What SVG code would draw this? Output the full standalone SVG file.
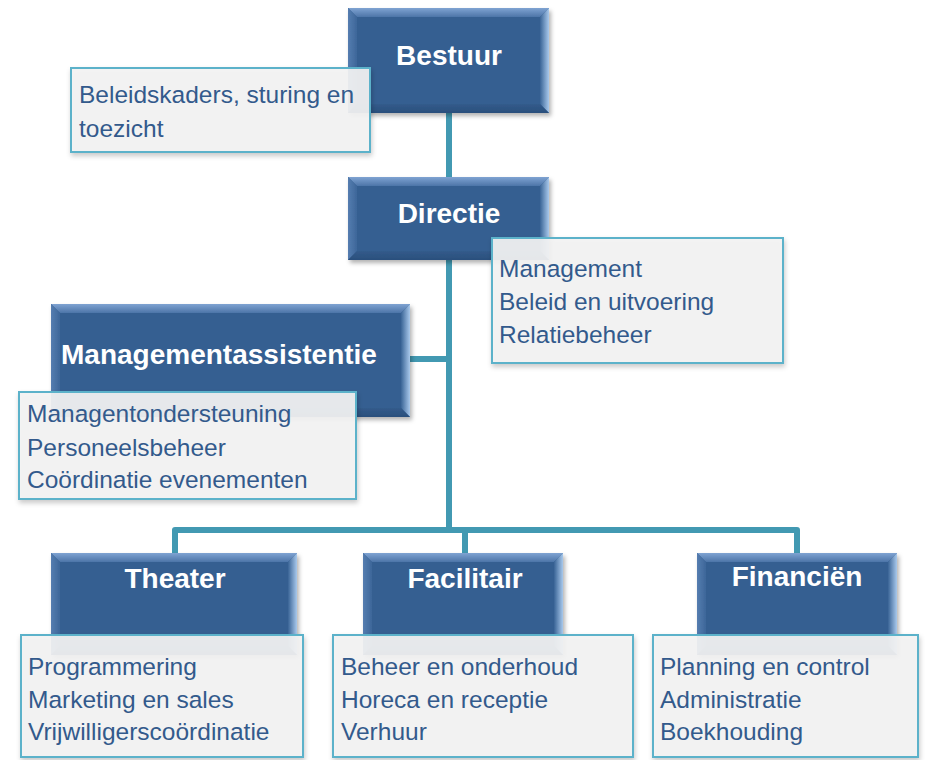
<svg xmlns="http://www.w3.org/2000/svg" width="926" height="760" viewBox="0 0 926 760">
<defs>
<linearGradient id="gTop" x1="0" y1="0" x2="0" y2="1">
<stop offset="0" stop-color="#7FA3D2"/>
<stop offset="1" stop-color="#4D75A8"/>
</linearGradient>
<linearGradient id="gLeft" x1="0" y1="0" x2="1" y2="0">
<stop offset="0" stop-color="#557DB0"/>
<stop offset="1" stop-color="#3D6699"/>
</linearGradient>
<linearGradient id="gRight" x1="0" y1="0" x2="1" y2="0">
<stop offset="0" stop-color="#3A6496"/>
<stop offset="1" stop-color="#A9C9EC"/>
</linearGradient>
<linearGradient id="gBot" x1="0" y1="0" x2="0" y2="1">
<stop offset="0" stop-color="#325B8B"/>
<stop offset="1" stop-color="#2B4F7C"/>
</linearGradient>
<filter id="sh" x="-10%" y="-10%" width="125%" height="130%">
<feDropShadow dx="2" dy="3" stdDeviation="2" flood-color="#000" flood-opacity="0.3"/>
</filter>
<filter id="sh2" x="-10%" y="-10%" width="125%" height="130%">
<feDropShadow dx="1" dy="3" stdDeviation="2.5" flood-color="#000" flood-opacity="0.22"/>
</filter>
</defs>
<style>
.base{fill:#365F91}
.top{fill:url(#gTop)}
.left{fill:url(#gLeft)}
.right{fill:url(#gRight)}
.bot{fill:url(#gBot)}
.title{font-family:"Liberation Sans",Arial,sans-serif;font-weight:bold;font-size:28px;fill:#FFFFFF;text-anchor:middle}
.tb{fill:#F3F3F3;fill-opacity:0.92;stroke:#5BB2CA;stroke-width:2}
.txt{font-family:"Liberation Sans",Arial,sans-serif;font-size:24.5px;fill:#335A8C}
.conn{fill:none;stroke:#4299B2;stroke-width:6;stroke-linejoin:round}
</style>
<rect width="926" height="760" fill="#FFFFFF"/>

<g id="connectors">
<path class="conn" d="M449,113 V530"/>
<path class="conn" d="M410,359 H449"/>
<path class="conn" d="M175,553 V530 H797 V553"/>
<path class="conn" d="M465,530 V553"/>
</g>

<g id="bestuur">
<g filter="url(#sh)">
<rect class="base" x="348" y="8" width="201" height="105"/>
<polygon class="top" points="348,8 549,8 540,17 357,17"/>
<polygon class="left" points="348,8 357,17 357,104 348,113"/>
<polygon class="right" points="549,8 549,113 540,104 540,17"/>
<polygon class="bot" points="348,113 357,104 540,104 549,113"/>
</g>
<text class="title" x="449" y="65">Bestuur</text>
</g>
<g id="bestuur-info">
<rect class="tb" x="71" y="68" width="299" height="84" filter="url(#sh2)"/>
<text class="txt" x="79" y="103">Beleidskaders, sturing en</text>
<text class="txt" x="79" y="137">toezicht</text>
</g>

<g id="directie">
<g filter="url(#sh)">
<rect class="base" x="348" y="177" width="201" height="83"/>
<polygon class="top" points="348,177 549,177 540,186 357,186"/>
<polygon class="left" points="348,177 357,186 357,251 348,260"/>
<polygon class="right" points="549,177 549,260 540,251 540,186"/>
<polygon class="bot" points="348,260 357,251 540,251 549,260"/>
</g>
<text class="title" x="449" y="223">Directie</text>
</g>
<g id="directie-info">
<rect class="tb" x="492" y="238" width="291" height="125" filter="url(#sh2)"/>
<text class="txt" x="499" y="277">Management</text>
<text class="txt" x="499" y="310">Beleid en uitvoering</text>
<text class="txt" x="499" y="343">Relatiebeheer</text>
</g>

<g id="managementassistentie">
<g filter="url(#sh)">
<rect class="base" x="51" y="304" width="359" height="113"/>
<polygon class="top" points="51,304 410,304 401,313 60,313"/>
<polygon class="left" points="51,304 60,313 60,408 51,417"/>
<polygon class="right" points="410,304 410,417 401,408 401,313"/>
<polygon class="bot" points="51,417 60,408 401,408 410,417"/>
</g>
<text class="title" x="219" y="364">Managementassistentie</text>
</g>
<g id="managementassistentie-info">
<rect class="tb" x="19" y="392" width="337" height="107" filter="url(#sh2)"/>
<text class="txt" x="27" y="422">Managentondersteuning</text>
<text class="txt" x="27" y="456">Personeelsbeheer</text>
<text class="txt" x="27" y="488">Coördinatie evenementen</text>
</g>

<g id="theater">
<g filter="url(#sh)">
<rect class="base" x="51" y="553" width="246" height="102"/>
<polygon class="top" points="51,553 297,553 288,562 60,562"/>
<polygon class="left" points="51,553 60,562 60,646 51,655"/>
<polygon class="right" points="297,553 297,655 288,646 288,562"/>
<polygon class="bot" points="51,655 60,646 288,646 297,655"/>
</g>
<text class="title" x="175" y="588">Theater</text>
</g>
<g id="theater-info">
<rect class="tb" x="21" y="635" width="282" height="122" filter="url(#sh2)"/>
<text class="txt" x="28" y="675">Programmering</text>
<text class="txt" x="28" y="708">Marketing en sales</text>
<text class="txt" x="28" y="740">Vrijwilligerscoördinatie</text>
</g>

<g id="facilitair">
<g filter="url(#sh)">
<rect class="base" x="363" y="553" width="200" height="102"/>
<polygon class="top" points="363,553 563,553 554,562 372,562"/>
<polygon class="left" points="363,553 372,562 372,646 363,655"/>
<polygon class="right" points="563,553 563,655 554,646 554,562"/>
<polygon class="bot" points="363,655 372,646 554,646 563,655"/>
</g>
<text class="title" x="465" y="588">Facilitair</text>
</g>
<g id="facilitair-info">
<rect class="tb" x="333" y="635" width="300" height="122" filter="url(#sh2)"/>
<text class="txt" x="341" y="675">Beheer en onderhoud</text>
<text class="txt" x="341" y="708">Horeca en receptie</text>
<text class="txt" x="341" y="740">Verhuur</text>
</g>

<g id="financien">
<g filter="url(#sh)">
<rect class="base" x="697" y="553" width="200" height="102"/>
<polygon class="top" points="697,553 897,553 888,562 706,562"/>
<polygon class="left" points="697,553 706,562 706,646 697,655"/>
<polygon class="right" points="897,553 897,655 888,646 888,562"/>
<polygon class="bot" points="697,655 706,646 888,646 897,655"/>
</g>
<text class="title" x="797" y="586">Financiën</text>
</g>
<g id="financien-info">
<rect class="tb" x="653" y="635" width="265" height="122" filter="url(#sh2)"/>
<text class="txt" x="660" y="675">Planning en control</text>
<text class="txt" x="660" y="708">Administratie</text>
<text class="txt" x="660" y="740">Boekhouding</text>
</g>
</svg>
